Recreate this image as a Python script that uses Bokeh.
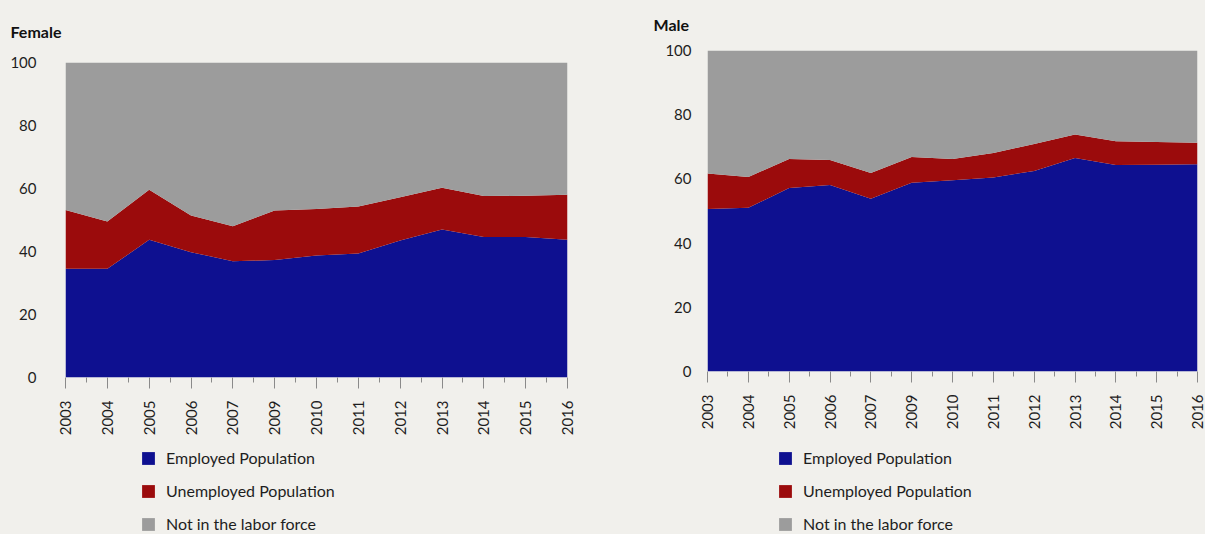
import math
from bokeh.plotting import figure
from bokeh.models import ColumnDataSource, Legend, LegendItem, FixedTicker
from bokeh.layouts import row, column
from bokeh.embed import file_html
from bokeh.resources import INLINE

# ---------------- data ----------------
years = ["2003", "2004", "2005", "2006", "2007", "2009", "2010",
         "2011", "2012", "2013", "2014", "2015", "2016"]

female_employed = [34.5, 34.5, 43.7, 39.8, 36.9, 37.3, 38.7, 39.4, 43.5, 47.0, 44.6, 44.6, 43.7]
female_unemployed = [18.7, 15.0, 15.9, 11.6, 11.1, 15.7, 14.8, 14.9, 13.7, 13.2, 13.0, 13.1, 14.3]
female_not_in_lf = [46.8, 50.5, 40.4, 48.6, 52.0, 47.0, 46.5, 45.7, 42.8, 39.8, 42.4, 42.3, 42.0]

male_employed = [50.6, 51.0, 57.2, 58.1, 53.8, 58.8, 59.6, 60.4, 62.5, 66.5, 64.3, 64.4, 64.6]
male_unemployed = [11.1, 9.6, 9.0, 7.8, 8.0, 8.0, 6.6, 7.7, 8.4, 7.3, 7.4, 7.1, 6.7]
male_not_in_lf = [38.3, 39.4, 33.8, 34.1, 38.2, 33.2, 33.8, 31.9, 29.1, 26.2, 28.3, 28.5, 28.7]

series_labels = ["Employed Population", "Unemployed Population", "Not in the labor force"]
stackers = ["employed", "unemployed", "not_in_lf"]
y_ticks = [0, 20, 40, 60, 80, 100]

# ---------------- style ----------------
BG = "#f1f0ec"
BLUE = "#0e1090"
RED = "#9b0b0c"
GRAY = "#9c9c9c"
TEXT = "#1e1e1e"
FONT = "Lato"
COLORS = [BLUE, RED, GRAY]
PLOT_H = 440
LEG_H = 94


def make_source(employed, unemployed, not_in_lf):
    return ColumnDataSource(dict(x=list(range(len(years))), employed=employed,
                                 unemployed=unemployed, not_in_lf=not_in_lf))


def make_panel(title, src, width, b_left, b_right, b_top, b_bottom,
               y_standoff, title_offset, title_standoff):
    n = len(years)
    xs = list(range(n))
    p = figure(width=width, height=PLOT_H, output_backend="svg", toolbar_location=None,
               x_range=(0, n - 1), y_range=(0, 100),
               min_border_left=b_left, min_border_right=b_right,
               min_border_top=b_top, min_border_bottom=b_bottom,
               background_fill_color=BG, border_fill_color=BG)
    p.outline_line_color = None
    p.xgrid.visible = False
    p.ygrid.visible = False

    p.varea_stack(stackers, x="x", color=COLORS, source=src)

    # x axis
    xa = p.xaxis[0]
    xa.ticker = FixedTicker(ticks=xs, minor_ticks=[i + 0.5 for i in range(n - 1)])
    xa.major_label_overrides = {i: years[i] for i in xs}
    xa.major_label_orientation = math.pi / 2
    xa.axis_line_color = None
    xa.major_tick_in = 0
    xa.major_tick_out = 11
    xa.minor_tick_in = 0
    xa.minor_tick_out = 5
    xa.major_tick_line_color = "#8a8a8a"
    xa.minor_tick_line_color = "#8a8a8a"
    xa.major_label_standoff = 12
    xa.major_label_text_font = FONT
    xa.major_label_text_font_size = "15px"
    xa.major_label_text_color = TEXT

    # y axis
    ya = p.yaxis[0]
    ya.ticker = FixedTicker(ticks=y_ticks)
    ya.axis_line_color = None
    ya.major_tick_line_color = None
    ya.minor_tick_line_color = None
    ya.major_label_standoff = y_standoff
    ya.major_label_text_font = FONT
    ya.major_label_text_font_size = "15px"
    ya.major_label_text_color = TEXT

    # title
    p.title.text = title
    p.title.align = "left"
    p.title.vertical_align = "top"
    p.title.offset = title_offset
    p.title.text_font = FONT
    p.title.text_font_size = "16px"
    p.title.text_font_style = "bold"
    p.title.text_color = "#111111"
    p.title.standoff = title_standoff
    return p


def make_legend(src, width, x_off):
    # legend proxies: same stacked data, drawn outside this strip's visible range
    lf = figure(width=width, height=LEG_H, output_backend="svg", toolbar_location=None,
                x_axis_location=None, y_axis_location=None,
                x_range=(0, len(years) - 1), y_range=(-20, -10),
                min_border_left=0, min_border_right=0, min_border_top=0, min_border_bottom=0,
                background_fill_color=BG, border_fill_color=BG,
                background_fill_alpha=0, border_fill_alpha=0)
    lf.outline_line_color = None
    lf.xgrid.visible = False
    lf.ygrid.visible = False
    rs = lf.varea_stack(stackers, x="x", color=COLORS, source=src)
    items = [LegendItem(label=lab, renderers=[r]) for lab, r in zip(series_labels, rs)]
    legend = Legend(items=items, location=(x_off, 1), orientation="vertical",
                    glyph_width=16, glyph_height=16, label_height=16,
                    label_standoff=10, spacing=14, padding=0, margin=0,
                    label_text_font=FONT, label_text_font_size="16px",
                    label_text_color=TEXT,
                    background_fill_alpha=0, border_line_color=None)
    lf.add_layout(legend, "center")
    return lf


female_src = make_source(female_employed, female_unemployed, female_not_in_lf)
male_src = make_source(male_employed, male_unemployed, male_not_in_lf)

female = make_panel("Female", female_src, width=630, b_left=65, b_right=63, b_top=62,
                    b_bottom=PLOT_H - 377, y_standoff=23, title_offset=-55,
                    title_standoff=40)
male = make_panel("Male", male_src, width=575, b_left=77, b_right=8, b_top=50,
                  b_bottom=PLOT_H - 371, y_standoff=10, title_offset=-54,
                  title_standoff=29)

female_leg = make_legend(female_src, 630, 75)
male_leg = make_legend(male_src, 575, 70)

layout = row(column(female, female_leg, spacing=0, styles={"background-color": BG}),
             column(male, male_leg, spacing=0, styles={"background-color": BG}),
             spacing=0, styles={"background-color": BG})
html = file_html(layout, INLINE)
html = html.replace("<body>", '<body style="background-color: %s;">' % BG, 1)
open("out.html", "w").write(html)
